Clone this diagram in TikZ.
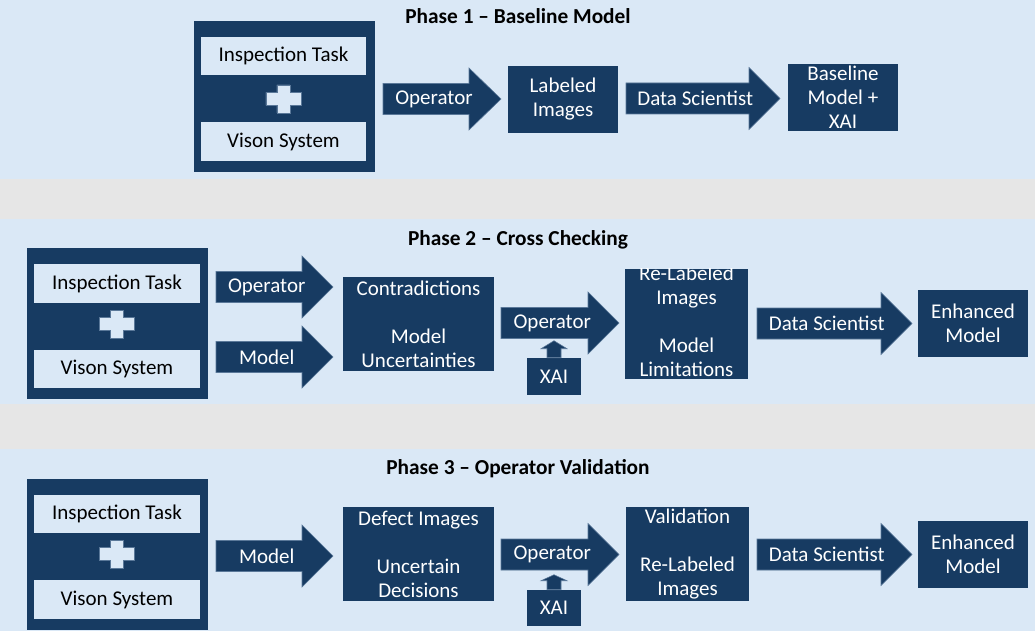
\documentclass[tikz,border=0pt]{standalone}
\usepackage{fontspec}
\setmainfont{Carlito}
\definecolor{navy}{HTML}{173B62}
\definecolor{lite}{HTML}{DAE8F6}
\definecolor{bandgray}{HTML}{E6E6E6}
\definecolor{edgeblue}{HTML}{5A7899}
\newcommand\bodyfont{\fontsize{15.75pt}{18pt}\selectfont}
\tikzset{
  darkbox/.style={fill=navy, draw=none, inner sep=0pt},
  litebox/.style={fill=lite, draw=none, inner sep=0pt},
  wtxt/.style={text=white, inner sep=0pt, align=center, font=\bodyfont},
  btxt/.style={text=black, inner sep=0pt, align=center, font=\bodyfont},
  ttl/.style={text=black, inner sep=0pt, font=\bfseries\fontsize{16pt}{19pt}\selectfont},
  arrshape/.style={fill=navy, draw=edgeblue, line width=0.4pt},
  plusshape/.style={fill=lite, draw=edgeblue, line width=0.4pt},
}
% box node: style, name, x1, y1, x2, y2
\newcommand\bx[6]{\node[#1, minimum width={(#5-#3)*0.75pt}, minimum height={(#6-#4)*0.75pt}] (#2) at ({(#3+#5)/2},{(#4+#6)/2}) {};}
% block arrow: name, x0, xhead, xtip, ycenter, label
\newcommand\barrow[6]{%
  \path[arrshape] (#2,#5-15.5) -- (#3,#5-15.5) -- (#3,#5-31) -- (#4,#5) -- (#3,#5+31) -- (#3,#5+15.5) -- (#2,#5+15.5) -- cycle;
  \node[wtxt] (#1) at ({(#2+(#3+#4)/2)/2},#5) {#6};}
% plus sign: name, x, y
\newcommand\plussign[3]{%
  \coordinate (#1) at (#2,#3);
  \path[plusshape] (#1) ++(-17.5,-6.5) -- ++(11,0) -- ++(0,-7.5) -- ++(13,0) -- ++(0,7.5) -- ++(11,0) -- ++(0,13) -- ++(-11,0) -- ++(0,7.5) -- ++(-13,0) -- ++(0,-7.5) -- ++(-11,0) -- cycle;}
% small up arrow above a node: node name, shaft length, head length
\newcommand\uparr[3]{%
  \path[arrshape] (#1.north) ++(-7,0) -- ++(0,-#2) -- ++(-6,0) -- ++(13,-#3) -- ++(13,#3) -- ++(-6,0) -- ++(0,#2) -- cycle;}
\begin{document}
\begin{tikzpicture}[x=0.75pt,y=-0.75pt]
\useasboundingbox (0,0) rectangle (1035,631);
% bands
\fill[lite] (0,0) rectangle (1035,179);
\fill[bandgray] (0,179) rectangle (1035,219);
\fill[lite] (0,219) rectangle (1035,404);
\fill[bandgray] (0,404) rectangle (1035,449);
\fill[lite] (0,449) rectangle (1035,631);

% ---------------- Phase 1 ----------------
\node[ttl] (t1) at (518,16) {Phase 1 – Baseline Model};
\bx{darkbox}{o1}{194}{21}{375}{172}
\bx{litebox}{it1}{201}{37}{366}{75}
\node[btxt] at (it1) {Inspection Task};
\plussign{p1}{283.3}{99}
\bx{litebox}{vs1}{201}{122}{366}{161}
\node[btxt] at (vs1) {Vison System};
\barrow{a11}{383}{469}{501}{99}{Operator}
\bx{darkbox}{li}{508}{66}{618}{133}
\node[wtxt] at (li) {Labeled\\Images};
\barrow{a12}{626}{749}{780}{98.5}{Data Scientist}
\bx{darkbox}{bm}{788}{64}{898}{131}
\node[wtxt] at (bm) {Baseline\\Model +\\XAI};

% ---------------- Phase 2 ----------------
\node[ttl] (t2) at (518,240) {Phase 2 – Cross Checking};
\bx{darkbox}{o2}{27}{248}{208}{399}
\bx{litebox}{it2}{34}{264}{200}{303}
\node[btxt] at (it2) {Inspection Task};
\plussign{p2}{117}{324}
\bx{litebox}{vs2}{34}{350}{200}{388}
\node[btxt] at (vs2) {Vison System};
\barrow{a21}{216}{302}{333}{287}{Operator}
\barrow{a22}{216}{302}{333}{357}{Model}
\bx{darkbox}{ct}{343}{277}{494}{371}
\node[wtxt] at (ct) {Contradictions\\[18pt]Model\\Uncertainties};
\barrow{a23}{501}{588}{619}{323}{Operator}
\bx{darkbox}{xai2}{527}{358}{581}{395}
\node[wtxt] at (xai2) {XAI};
\uparr{xai2}{9}{8}
\bx{darkbox}{rl}{625}{269}{748}{379}
\begin{scope}
\clip (rl.north west) rectangle ([yshift=-4pt]rl.south east);
\node[wtxt] at ([yshift=2pt]rl.center) {Re-Labeled\\Images\\[18pt]Model\\Limitations};
\end{scope}
\barrow{a24}{757}{881}{912}{323.5}{Data Scientist}
\bx{darkbox}{em2}{918}{290}{1028}{357}
\node[wtxt] at (em2) {Enhanced\\Model};

% ---------------- Phase 3 ----------------
\node[ttl] (t3) at (518,469) {Phase 3 – Operator Validation};
\bx{darkbox}{o3}{27}{479}{208}{630}
\bx{litebox}{it3}{34}{495}{200}{533}
\node[btxt] at (it3) {Inspection Task};
\plussign{p3}{117}{554}
\bx{litebox}{vs3}{34}{580}{200}{619}
\node[btxt] at (vs3) {Vison System};
\barrow{a31}{216}{302}{333}{556}{Model}
\bx{darkbox}{df}{343}{507}{494}{601}
\node[wtxt] at (df) {Defect Images\\[18pt]Uncertain\\Decisions};
\barrow{a32}{501}{588}{619}{554.5}{Operator}
\bx{darkbox}{xai3}{527}{590}{581}{626}
\node[wtxt] at (xai3) {XAI};
\uparr{xai3}{9}{6}
\bx{darkbox}{va}{626}{507}{749}{601}
\node[wtxt] at (va) {Validation\\[18pt]Re-Labeled\\Images};
\barrow{a33}{757}{881}{912}{554.5}{Data Scientist}
\bx{darkbox}{em3}{918}{521}{1028}{588}
\node[wtxt] at (em3) {Enhanced\\Model};
\end{tikzpicture}
\end{document}
